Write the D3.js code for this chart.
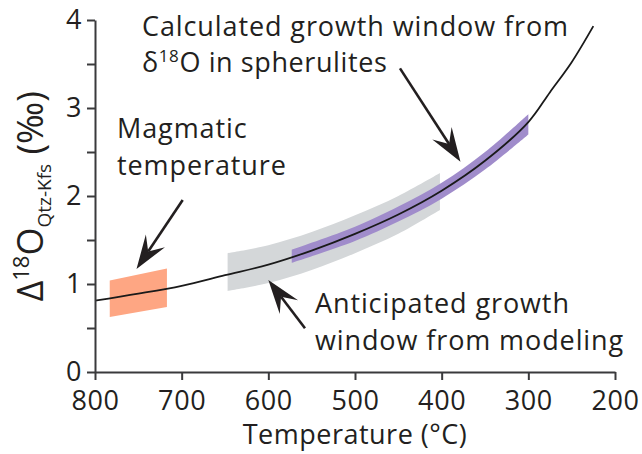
<!DOCTYPE html>
<html>
<head>
<meta charset="utf-8">
<script src="https://cdn.jsdelivr.net/npm/d3@7"></script>
<style>
  body { margin: 0; background: #fff; }
  text { font-family: "Open Sans", sans-serif; fill: #231f20; }
</style>
</head>
<body>
<script>
// curve: temperature (°C) and fractionation (‰)
var curveT = [800, 750, 700, 650, 600, 550, 500, 450, 400, 350, 300, 275, 250, 225];
var curveD = [0.81, 0.89, 0.98, 1.10, 1.22, 1.38, 1.57, 1.79, 2.06, 2.40, 2.84, 3.18, 3.52, 3.93];

// magmatic window
var magT = [783, 717];
var magLo = [0.625, 0.74];
var magHi = [1.04, 1.175];

// anticipated window from modeling
var modT = [647, 600, 550, 500, 450, 402];
var modLo = [0.92, 1.01, 1.16, 1.35, 1.57, 1.84];
var modHi = [1.35, 1.44, 1.59, 1.78, 2.00, 2.26];

// calculated window from spherulites
var sphT = [573, 500, 450, 400, 350, 300];
var sphLo = [1.24, 1.49, 1.71, 1.97, 2.30, 2.70];
var sphHi = [1.39, 1.65, 1.88, 2.15, 2.50, 2.93];

var xTicks = [800, 700, 600, 500, 400, 300, 200];
var yTicks = [0, 1, 2, 3, 4];
var yMinor = [0.5, 1.5, 2.5, 3.5];

var width = 642, height = 454;
var margin = {top: 20, right: 27, bottom: 82, left: 95};

var svg = d3.select("body").append("svg")
    .attr("width", width)
    .attr("height", height);

var x = d3.scaleLinear().domain([800, 200]).range([margin.left, width - margin.right]);
var y = d3.scaleLinear().domain([0, 4]).range([height - margin.bottom, margin.top]);

function band(T, lo, hi) {
  return T.map(function(t, i) { return {t: t, lo: lo[i], hi: hi[i]}; });
}

var area = d3.area()
    .x(function(d) { return x(d.t); })
    .y0(function(d) { return y(d.lo); })
    .y1(function(d) { return y(d.hi); })
    .curve(d3.curveCatmullRom.alpha(0.5));

svg.append("path")
    .attr("d", area(band(modT, modLo, modHi)))
    .attr("fill", "#d4d7d9");

svg.append("path")
    .attr("d", area(band(sphT, sphLo, sphHi)))
    .attr("fill", "#a08ccb");

svg.append("path")
    .attr("d", area.curve(d3.curveLinear)(band(magT, magLo, magHi)))
    .attr("fill", "#fea683");

// fractionation curve
var line = d3.line()
    .x(function(d) { return x(d[0]); })
    .y(function(d) { return y(d[1]); })
    .curve(d3.curveCatmullRom.alpha(0.5));

svg.append("path")
    .attr("d", line(d3.zip(curveT, curveD)))
    .attr("fill", "none")
    .attr("stroke", "#1a1a1a")
    .attr("stroke-width", 1.8);

// axes
var xAxis = svg.append("g")
    .attr("transform", "translate(0," + y(0) + ")")
    .call(d3.axisBottom(x).tickValues(xTicks).tickSize(8).tickPadding(11).tickSizeOuter(0));

var yAxis = svg.append("g")
    .attr("transform", "translate(" + x(800) + ",0)")
    .call(d3.axisLeft(y).tickValues(yTicks.concat(yMinor)).tickSize(8).tickPadding(5).tickSizeOuter(0)
      .tickFormat(function(d) { return yTicks.indexOf(d) >= 0 ? d : ""; }));

[xAxis, yAxis].forEach(function(g) {
  g.select(".domain").attr("stroke", "#3a3a3c").attr("stroke-width", 2);
  g.selectAll(".tick line").attr("stroke", "#3a3a3c").attr("stroke-width", 2);
  g.selectAll(".tick text")
    .attr("font-family", "Open Sans, sans-serif")
    .attr("font-size", 27)
    .attr("letter-spacing", 0.6)
    .attr("fill", "#231f20");
});
yAxis.selectAll(".tick text").attr("dy", "0.33em");
xAxis.selectAll(".tick text").attr("dy", "0.72em");

// axis titles
svg.append("text")
    .attr("x", x(500))
    .attr("y", 444)
    .attr("text-anchor", "middle")
    .attr("font-size", 27)
    .attr("letter-spacing", 0.5)
    .text("Temperature (°C)");

var yl = svg.append("text")
    .attr("transform", "translate(43," + y(0.8) + ") rotate(-90)")
    .attr("font-size", 36);
yl.append("tspan").text("Δ");
yl.append("tspan").attr("font-size", 22).attr("dy", -14).text("18");
yl.append("tspan").attr("dy", 14).text("O");
yl.append("tspan").attr("font-size", 19).attr("dy", 8).text("Qtz-Kfs");
yl.append("tspan").attr("dy", -8).text(" (‰)");

// annotations, placed in data units
var notes = [
  {lines: ["Calculated growth window from", null], t: 745.8, d: [3.82, 3.41]},
  {lines: ["Magmatic", "temperature"], t: 774.6, d: [2.66, 2.24]},
  {lines: ["Anticipated growth", "window from modeling"], t: 546.2, d: [0.67, 0.25]}
];

notes.forEach(function(n) {
  n.lines.forEach(function(s, i) {
    if (s === null) return;
    svg.append("text")
      .attr("x", x(n.t))
      .attr("y", y(n.d[i]))
      .attr("font-size", 27)
      .attr("letter-spacing", 0.9)
      .text(s);
  });
});

var sph = svg.append("text")
    .attr("x", x(745.8))
    .attr("y", y(3.41))
    .attr("font-size", 27)
    .attr("letter-spacing", 0.6);
sph.append("tspan").text("δ");
sph.append("tspan").attr("font-size", 17).attr("dy", -10).text("18");
sph.append("tspan").attr("dy", 10).text("O in spherulites");

// arrows: start and tip in data units
var arrows = [
  {from: [698.8, 1.955], to: [752.1, 1.17]},
  {from: [448.1, 3.45], to: [378.3, 2.39]},
  {from: [557.7, 0.497], to: [600.0, 1.045]}
];

arrows.forEach(function(a) {
  var x0 = x(a.from[0]), y0 = y(a.from[1]);
  var x1 = x(a.to[0]), y1 = y(a.to[1]);
  var dx = x1 - x0, dy = y1 - y0, len = Math.sqrt(dx * dx + dy * dy);
  var ux = dx / len, uy = dy / len, px = -uy, py = ux;
  var head = 34, notch = 21, half = 11.5;
  svg.append("line")
    .attr("x1", x0).attr("y1", y0)
    .attr("x2", x1 - ux * notch).attr("y2", y1 - uy * notch)
    .attr("stroke", "#231f20")
    .attr("stroke-width", 2.6);
  var pts = [
    [x1, y1],
    [x1 - ux * head + px * half, y1 - uy * head + py * half],
    [x1 - ux * notch, y1 - uy * notch],
    [x1 - ux * head - px * half, y1 - uy * head - py * half]
  ];
  svg.append("path")
    .attr("d", "M" + pts.join("L") + "Z")
    .attr("fill", "#231f20");
});
</script>
</body>
</html>
